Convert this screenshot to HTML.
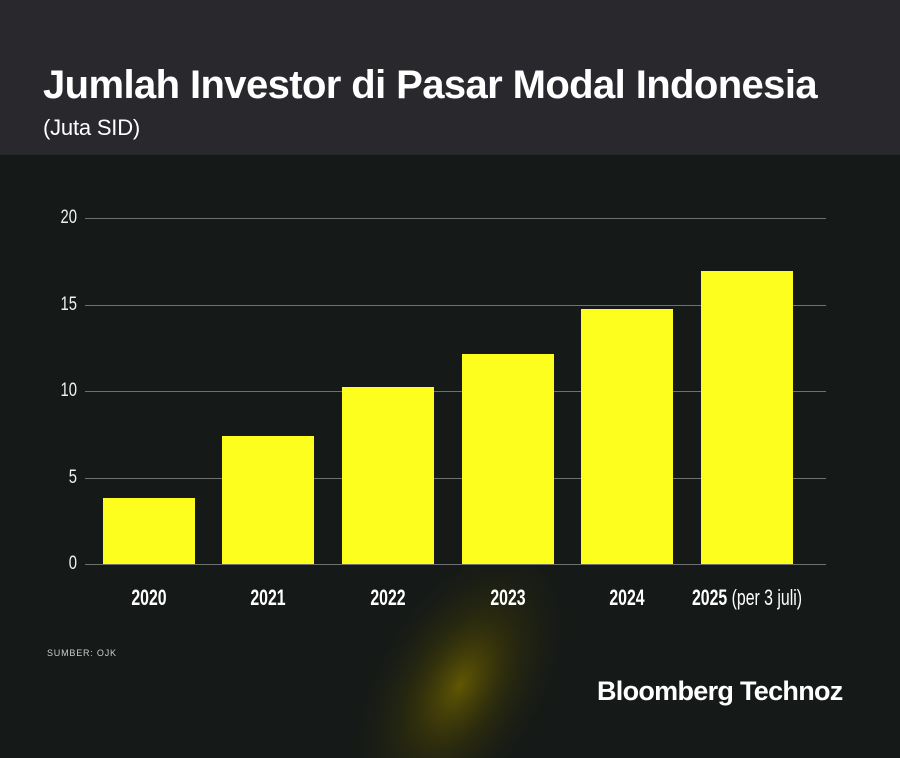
<!DOCTYPE html>
<html style="overflow:hidden;width:900px;height:758px"><head><meta charset="utf-8"><style>
*{margin:0;padding:0}
body{width:900px;height:758px;overflow:hidden;background:#151917;position:relative;font-family:"Liberation Sans",sans-serif;color:#fff}
.hdr{position:absolute;left:0;top:0;width:900px;height:155px;background:#29282d}
.t{position:absolute;left:43px;top:63px;font-size:40px;font-weight:bold;letter-spacing:-0.6px;white-space:nowrap}
.s{position:absolute;left:43px;top:115px;font-size:22px;letter-spacing:-0.2px}
.glow{position:absolute;left:0;top:0;width:900px;height:758px;overflow:hidden}
.g{position:absolute;left:85px;width:741px;height:1px;background:#6e716e}
.y{position:absolute;left:45px;width:32px;text-align:right;font-size:19px;transform:scaleX(0.78);transform-origin:right center;color:#f0f0f0}
.b{position:absolute;width:92px;background:#fdfd1e}
.x{position:absolute;top:585px;font-size:22px;font-weight:bold;transform:scaleX(0.72);transform-origin:center;white-space:nowrap;text-align:center;width:200px}
.src{position:absolute;left:47px;top:648px;font-size:9px;letter-spacing:0.8px;color:#ccc}
.logo{position:absolute;left:597px;top:676px;font-size:27px;font-weight:bold;letter-spacing:-0.7px}
</style></head><body>
<div class="hdr"></div>
<div class="t">Jumlah Investor di Pasar Modal Indonesia</div>
<div class="s">(Juta SID)</div>
<svg class="glow" width="900" height="758" viewBox="0 0 900 758">
<defs><radialGradient id="rg"><stop offset="0" stop-color="#6e6200" stop-opacity="0.85"/><stop offset="0.4" stop-color="#504800" stop-opacity="0.4"/><stop offset="1" stop-color="#151917" stop-opacity="0"/></radialGradient></defs>
<ellipse cx="460" cy="685" rx="170" ry="95" fill="url(#rg)" transform="rotate(-60 460 685)"/>
</svg>
<div class="g" style="top:218px"></div>
<div class="g" style="top:305px"></div>
<div class="g" style="top:391px"></div>
<div class="g" style="top:478px"></div>
<div class="g" style="top:564px"></div>
<div class="y" style="top:207px">20</div>
<div class="y" style="top:294px">15</div>
<div class="y" style="top:380px">10</div>
<div class="y" style="top:467px">5</div>
<div class="y" style="top:553px">0</div>
<div class="b" style="left:103px;top:498px;height:66px"></div>
<div class="b" style="left:222px;top:436px;height:128px"></div>
<div class="b" style="left:342px;top:387px;height:177px"></div>
<div class="b" style="left:462px;top:354px;height:210px"></div>
<div class="b" style="left:581px;top:309px;height:255px"></div>
<div class="b" style="left:701px;top:271px;height:293px"></div>
<div class="x" style="left:49px">2020</div>
<div class="x" style="left:168px">2021</div>
<div class="x" style="left:288px">2022</div>
<div class="x" style="left:408px">2023</div>
<div class="x" style="left:527px">2024</div>
<div class="x" style="left:647px">2025 <span style="font-weight:normal">(per 3 juli)</span></div>
<div class="src">SUMBER: OJK</div>
<div class="logo">Bloomberg Technoz</div>
</body></html>
